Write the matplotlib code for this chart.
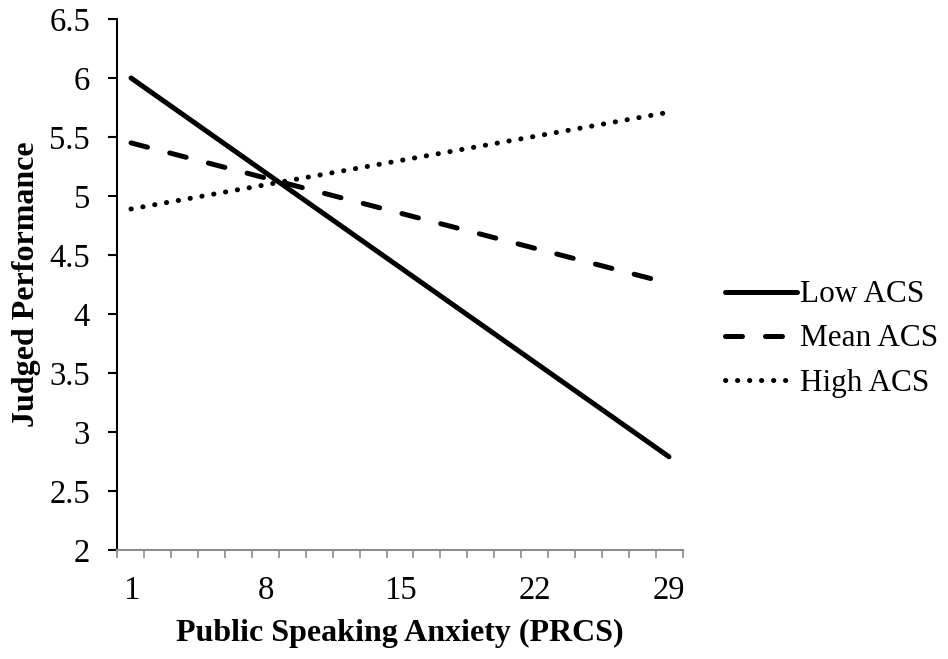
import numpy as np
import matplotlib
matplotlib.use("Agg")
import matplotlib.pyplot as plt

# Data
prcs = [1, 29]
low_acs = [6.00, 2.79]
mean_acs = [5.45, 4.26]
high_acs = [4.89, 5.71]
series_labels = ["Low ACS", "Mean ACS", "High ACS"]
xtick_values = [1, 8, 15, 22, 29]
ytick_values = [2, 2.5, 3, 3.5, 4, 4.5, 5, 5.5, 6, 6.5]
ytick_labels = ["2", "2.5", "3", "3.5", "4", "4.5", "5", "5.5", "6", "6.5"]

plt.rcParams['font.family'] = ['Liberation Serif', 'DejaVu Serif']

fig = plt.figure(figsize=(9.48, 6.59), dpi=100)
ax = fig.add_axes([0.1234, 0.1654, 0.7205 - 0.1234, 0.9712 - 0.1654])

lw = 3.6
ax.plot(prcs, low_acs, color='black', lw=lw, solid_capstyle='round', label=series_labels[0])
ax.plot(prcs, mean_acs, color='black', lw=lw, linestyle=(0, (3.4, 4.6)),
        dash_capstyle='round', label=series_labels[1])
ax.plot(prcs, high_acs, color='black', lw=lw, linestyle=(0, (0.05, 2.35)),
        dash_capstyle='round', label=series_labels[2])

xlo, xhi = 0.27, 29.73
ax.set_xlim(xlo, xhi)
ax.set_ylim(2, 6.5)

ax.set_xticks(xtick_values)
ax.set_xticklabels([str(v) for v in xtick_values])
ax.set_xticks(np.linspace(xlo, xhi, 22), minor=True)
ax.tick_params(axis='x', which='major', length=0, pad=18, labelsize=23.5)
ax.tick_params(axis='x', which='minor', length=6, width=1.2, color='#8c8c8c', direction='out')

ax.set_yticks(ytick_values)
ax.set_yticklabels(ytick_labels)
ax.tick_params(axis='y', which='major', length=6.5, width=1.5, color='black', pad=13, labelsize=23.5)

for s in ['top', 'right']:
    ax.spines[s].set_visible(False)
ax.spines['left'].set_linewidth(1.5)
ax.spines['left'].set_color('black')
ax.spines['bottom'].set_linewidth(1.5)
ax.spines['bottom'].set_color('#8c8c8c')

ax.set_xlabel("Public Speaking Anxiety (PRCS)", fontsize=23, fontweight='bold', labelpad=10)
ax.set_ylabel("Judged Performance", fontsize=23, fontweight='bold', labelpad=6)

leg = fig.legend(*ax.get_legend_handles_labels(), loc='center left',
                 bbox_to_anchor=(725 / 948, 1 - 339 / 659), bbox_transform=fig.transFigure,
                 frameon=False, borderpad=0, borderaxespad=0,
                 fontsize=22.5, handlelength=2.3, handletextpad=0.1, labelspacing=0.48)

fig.savefig("out.png", dpi=100)
